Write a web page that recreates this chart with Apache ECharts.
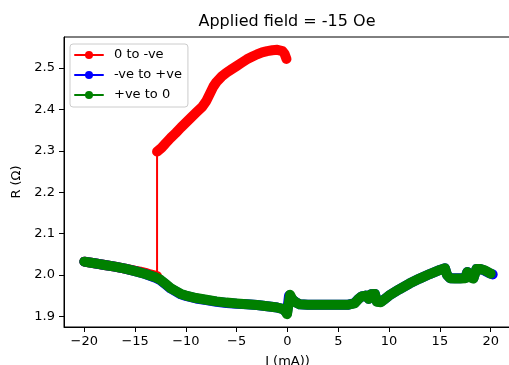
<!DOCTYPE html>
<html>
<head>
<meta charset="utf-8">
<script src="https://cdn.jsdelivr.net/npm/echarts@6/dist/echarts.min.js"></script>
<style>
html,body{margin:0;padding:0;background:#fff;}
#chart{width:509px;height:365px;}
</style>
</head>
<body>
<div id="chart"></div>
<script>
const titleText = 'Applied field = -15 Oe';
const xName = 'I (mA))';
const yName = 'R (\u03a9)';
const seriesNames = ['0 to -ve', '-ve to +ve', '+ve to 0'];
const xTicks = [-20, -15, -10, -5, 0, 5, 10, 15, 20];
const yTicks = [1.9, 2.0, 2.1, 2.2, 2.3, 2.4, 2.5];

// "0 to -ve": upper branch from 0 down to the jump
const redUpperI = [-0.1, -0.3, -0.5, -1.0, -1.5, -2.0, -2.5, -3.0, -3.5, -4.0, -4.5, -5.0, -5.5, -6.0, -6.5, -7.0, -7.3, -7.6, -8.0, -8.4, -9.0, -9.5, -10.0, -10.5, -11.0, -11.5, -12.0, -12.4, -12.84];
const redUpperR = [2.522, 2.535, 2.541, 2.544, 2.543, 2.541, 2.538, 2.533, 2.527, 2.521, 2.513, 2.505, 2.497, 2.489, 2.479, 2.466, 2.455, 2.440, 2.420, 2.406, 2.392, 2.380, 2.368, 2.356, 2.343, 2.331, 2.318, 2.307, 2.298];
// "0 to -ve": lower branch after the jump
const redLowerI = [-12.84, -13.5, -14.0, -14.5, -15.0, -16.0, -17.0, -18.0, -19.0, -20.0];
const redLowerR = [1.997, 2.001, 2.005, 2.008, 2.010, 2.015, 2.020, 2.024, 2.028, 2.032];

// "-ve to +ve"
const blueI = [-20, -19, -18, -17, -16, -15, -14, -13, -12.5, -12, -11.5, -11, -10.5, -10, -9, -8, -7, -6, -5, -4, -3, -2, -1, -0.5, -0.2, -0.05, 0.15, 0.3, 0.5, 0.8, 1.2, 2, 3, 4, 5, 6, 6.6, 7.0, 7.3, 7.7, 8.0, 8.2, 8.6, 8.8, 9.2, 9.6, 10, 11, 12, 13, 14, 15, 15.5, 15.7, 16, 17, 17.5, 17.7, 18, 18.3, 18.6, 19, 19.4, 19.8, 20.2];
const blueR = [2.032, 2.028, 2.024, 2.020, 2.015, 2.009, 2.002, 1.993, 1.987, 1.977, 1.967, 1.960, 1.953, 1.949, 1.943, 1.939, 1.935, 1.932, 1.930, 1.929, 1.927, 1.924, 1.921, 1.918, 1.912, 1.907, 1.950, 1.948, 1.940, 1.934, 1.929, 1.928, 1.928, 1.928, 1.928, 1.928, 1.932, 1.942, 1.948, 1.950, 1.942, 1.953, 1.954, 1.936, 1.935, 1.942, 1.950, 1.965, 1.979, 1.991, 2.002, 2.012, 2.016, 2.000, 1.992, 1.992, 1.993, 2.007, 1.995, 1.992, 2.014, 2.014, 2.010, 2.005, 2.001];

// "+ve to 0"
const greenI = [20, 19.8, 19.4, 19, 18.6, 18.3, 18, 17.7, 17.5, 17, 16.5, 16, 15.7, 15.5, 15, 14, 13, 12, 11, 10, 9.6, 9.2, 8.8, 8.6, 8.2, 8.0, 7.7, 7.3, 7.0, 6.6, 6, 5, 4, 3, 2, 1.2, 0.8, 0.5, 0.25, 0.1, -0.05, -0.2, -0.5, -1, -2, -3, -4, -5, -6, -7, -8, -9, -10, -10.5, -11, -11.5, -12, -12.5, -13, -14, -15, -16, -17, -18, -18.5, -19, -19.5, -20];
const greenR = [2.003, 2.006, 2.011, 2.014, 2.014, 1.991, 1.994, 2.007, 1.992, 1.991, 1.991, 1.992, 2.000, 2.016, 2.012, 2.002, 1.991, 1.979, 1.965, 1.950, 1.942, 1.934, 1.935, 1.954, 1.953, 1.942, 1.950, 1.948, 1.942, 1.931, 1.928, 1.928, 1.928, 1.928, 1.928, 1.929, 1.934, 1.940, 1.952, 1.956, 1.905, 1.912, 1.918, 1.921, 1.924, 1.927, 1.929, 1.931, 1.933, 1.936, 1.940, 1.944, 1.950, 1.954, 1.961, 1.968, 1.978, 1.988, 1.994, 2.002, 2.009, 2.015, 2.020, 2.024, 2.026, 2.028, 2.030, 2.032];

const zip = (xs, ys) => xs.map((x, i) => [x, ys[i]]);
const fmtMinus = v => String(v).replace('-', '\u2212');
const FONT = 'DejaVu Sans';
const bandWidth = 10;

function band(name, color, data, z) {
  return {
    name: name, type: 'line', data: data, z: z,
    symbol: 'circle', symbolSize: 8, showSymbol: false,
    lineStyle: { color: color, width: bandWidth, cap: 'round', join: 'round' },
    itemStyle: { color: color },
    animation: false, silent: true
  };
}

const chart = echarts.init(document.getElementById('chart'), null, { renderer: 'canvas' });
chart.setOption({
  backgroundColor: '#fff',
  animation: false,
  title: {
    text: titleText, left: 287, top: 14, textAlign: 'center', padding: 0,
    textStyle: { fontFamily: FONT, fontSize: 16, fontWeight: 'normal', color: '#000' }
  },
  legend: {
    data: seriesNames.map(n => ({ name: n })),
    orient: 'vertical', left: 70, top: 44,
    padding: [4, 6, 5, 4],
    itemWidth: 28, itemHeight: 10, itemGap: 6,
    backgroundColor: 'rgba(255,255,255,0.8)',
    borderColor: '#cccccc', borderWidth: 1, borderRadius: 3,
    lineStyle: { width: 2 },
    textStyle: { fontFamily: FONT, fontSize: 13, color: '#000', lineHeight: 14, padding: [0, 0, 0, 6] }
  },
  grid: {
    left: 64, right: -2, top: 37, bottom: 38, show: true,
    outerBoundsMode: 'none', containLabel: false,
    borderColor: '#000', borderWidth: 1, backgroundColor: 'transparent'
  },
  xAxis: {
    type: 'value', min: -22, max: 22,
    name: xName, nameLocation: 'middle', nameGap: 28,
    nameTextStyle: { fontFamily: FONT, fontSize: 13, color: '#000' },
    axisLine: { show: true, onZero: false, lineStyle: { color: '#000', width: 1 } },
    axisTick: { show: true, inside: false, length: 5, customValues: xTicks, lineStyle: { color: '#000' } },
    axisLabel: { customValues: xTicks, margin: 8, fontFamily: FONT, fontSize: 13, color: '#000', formatter: v => fmtMinus(v) },
    splitLine: { show: false }
  },
  yAxis: {
    type: 'value', min: 1.874, max: 2.575,
    name: yName, nameLocation: 'middle', nameGap: 40, nameRotate: 90,
    nameTextStyle: { fontFamily: FONT, fontSize: 13, color: '#000' },
    axisLine: { show: true, onZero: false, lineStyle: { color: '#000', width: 1 } },
    axisTick: { show: true, inside: false, length: 5, customValues: yTicks, lineStyle: { color: '#000' } },
    axisLabel: { customValues: yTicks, margin: 9, fontFamily: FONT, fontSize: 13, color: '#000', formatter: v => Number(v).toFixed(1) },
    splitLine: { show: false }
  },
  series: [
    band(seriesNames[0], '#ff0000', zip(redUpperI, redUpperR), 2),
    {
      name: seriesNames[0], type: 'line', z: 2,
      data: [zip(redUpperI, redUpperR)[redUpperI.length - 1], zip(redLowerI, redLowerR)[0]],
      symbol: 'circle', showSymbol: false,
      lineStyle: { color: '#ff0000', width: 2 }, itemStyle: { color: '#ff0000' }, silent: true
    },
    band(seriesNames[0], '#ff0000', zip(redLowerI, redLowerR), 2),
    band(seriesNames[1], '#0000ff', zip(blueI, blueR), 3),
    band(seriesNames[2], '#008000', zip(greenI, greenR), 4)
  ]
});
</script>
</body>
</html>
